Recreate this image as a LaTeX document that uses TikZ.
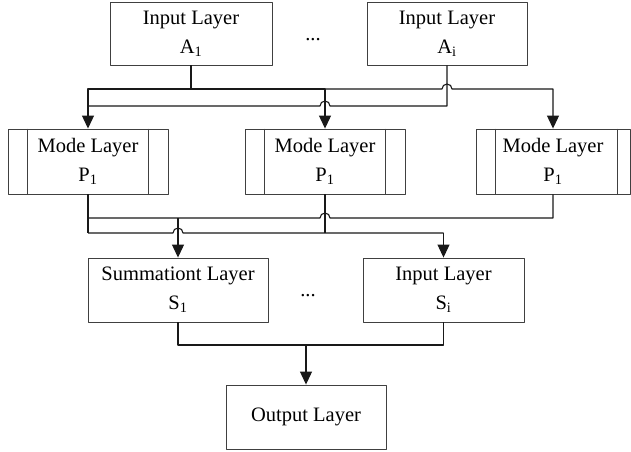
\documentclass[tikz,border=0pt]{standalone}
\usepackage{fontspec}
\setmainfont{Liberation Serif}
\usetikzlibrary{arrows.meta,calc}
\begin{document}
\begin{tikzpicture}[x=1pt, y=1pt, line join=round, >={Triangle[width=12pt,length=13pt]},
	font=\fontsize{20.5}{29}\selectfont,
	layer/.style={draw=black!75, line width=0.9pt, align=center, minimum width=160pt, minimum height=64pt, inner sep=0pt},
	wire/.style={draw=black!90, line width=1.1pt}]
				\useasboundingbox (0,0) rectangle (631,451);
				\path	(0,362) coordinate (b1)
				(0,345) coordinate (b2)
				(0,233) coordinate (b3)
				(0,218) coordinate (b4)
				(0,106) coordinate (b5);
				% boxes
				\node[layer, minimum width=162pt, minimum height=63pt] (a1) at (191,417.5) {Input Layer\\A\textsubscript{1}};
				\node[layer, minimum height=63pt] (ai) at (447,417.5) {Input Layer\\A\textsubscript{i}};
				\node (d1) at (313,411) {...};
				\node[layer, minimum height=65pt] (m1) at (88,289.5) {Mode Layer\\P\textsubscript{1}};
				\node[layer, minimum height=65pt] (m2) at (325,289.5) {Mode Layer\\P\textsubscript{1}};
				\node[layer, minimum height=65pt, minimum width=154pt] (m3) at (553,289.5) {Mode Layer\\P\textsubscript{1}};
				\foreach \m/\r in {m1/20,m2/20,m3/13}
					\draw[black!75, line width=0.9pt] ([xshift=20pt]\m.north west)--([xshift=20pt]\m.south west)
					([xshift=-\r pt]\m.north east)--([xshift=-\r pt]\m.south east);
				\node[layer, minimum width=180pt] (s1) at (178,161) {Summationt Layer\\S\textsubscript{1}};
				\node[layer, minimum width=161pt] (si) at (443.5,161) {Input Layer\\S\textsubscript{i}};
				\node (d2) at (308,155) {...};
				\node[layer] (out) at (306,34) {Output Layer};
				% input to mode
				\draw[wire] (a1.south)--(a1.south |- b1);
				\draw[wire,->] (a1.south |- b1) -| (m1.north);
				\draw[wire,->] (a1.south |- b1) -| (m2.north);
				\draw[wire,->] (m2.north |- b1)--($(ai.south |- b1)+(-5,0)$) arc[start angle=180, end angle=0, radius=5pt] -| (m3.north);
				\draw[wire] (ai.south) |- ($(m2.north |- b2)+(5,0)$) arc[start angle=0, end angle=180, radius=5pt]--(m1.north |- b2);
				% mode to summation
				\draw[wire] (m1.south)--(m1.south |- b4);
				\draw[wire] (m2.south)--(m2.south |- b4);
				\draw[wire] (m1.south |- b3)--($(m2.south |- b3)+(-5,0)$) arc[start angle=180, end angle=0, radius=5pt] -| (m3.south);
				\draw[wire] (m1.south |- b4)--($(s1.north |- b4)+(-5,0)$) arc[start angle=180, end angle=0, radius=5pt]--(si.north |- b4);
				\draw[wire,->] (s1.north |- b3)--(s1.north);
				\draw[wire,->] (si.north |- b4)--(si.north);
				% summation to output
				\draw[wire] (s1.south)--(s1.south |- b5) -| (si.south);
				\draw[wire,->] (out.north |- b5)--(out.north);
		\end{tikzpicture}
\end{document}
